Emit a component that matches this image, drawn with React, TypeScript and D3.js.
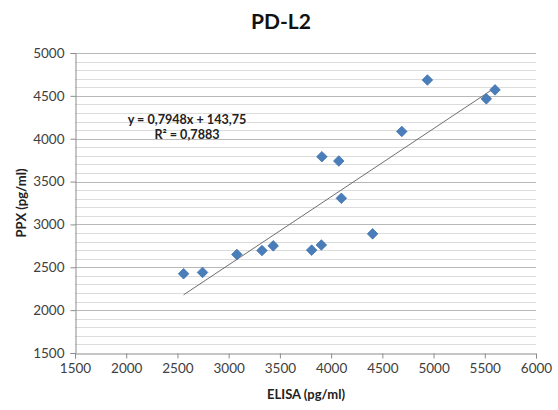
import React, { useEffect, useRef } from "react";
import * as d3 from "d3";

const elisa = [2560, 2745, 3080, 3325, 3435, 3810, 3905, 4405, 3910, 4075, 4100, 4690, 4940, 5515, 5600];
const ppx = [2425, 2440, 2650, 2695, 2750, 2700, 2760, 2890, 3790, 3740, 3305, 4085, 4685, 4465, 4570];
const xTicks = [1500, 2000, 2500, 3000, 3500, 4000, 4500, 5000, 5500, 6000];
const yTicks = [1500, 2000, 2500, 3000, 3500, 4000, 4500, 5000];
const slope = 0.7948;
const intercept = 143.75;
const equationLines = ["y = 0,7948x + 143,75", "R² = 0,7883"];

function App() {
  const svgRef = useRef<SVGSVGElement | null>(null);

  useEffect(() => {
    drawChart();
  }, []);

  const drawChart = () => {
    const svg = d3.select(svgRef.current);
    svg.selectAll("*").remove();

    const font = "Lato, 'Open Sans', sans-serif";
    const left = 75, right = 536, top = 53, bottom = 353;

    const xScale = d3.scaleLinear().domain([1500, 6000]).range([left, right]);
    const yScale = d3.scaleLinear().domain([1500, 5000]).range([bottom, top]);

    svg.append("rect").attr("width", 558).attr("height", 410).attr("fill", "#fff");

    // minor gridlines every 100
    const minor = d3.range(1600, 5000, 100).filter((v) => v % 500 !== 0);
    svg.append("g")
      .selectAll("line")
      .data(minor)
      .enter()
      .append("line")
      .attr("x1", left)
      .attr("x2", right)
      .attr("y1", (d) => Math.round(yScale(d)) + 0.5)
      .attr("y2", (d) => Math.round(yScale(d)) + 0.5)
      .attr("stroke", "#dcdcdc")
      .attr("stroke-width", 1);

    // major gridlines
    svg.append("g")
      .selectAll("line")
      .data(yTicks.slice(1))
      .enter()
      .append("line")
      .attr("x1", left)
      .attr("x2", right)
      .attr("y1", (d) => Math.round(yScale(d)) + 0.5)
      .attr("y2", (d) => Math.round(yScale(d)) + 0.5)
      .attr("stroke", "#b8b8b8")
      .attr("stroke-width", 1);

    const xAxis = d3.axisBottom(xScale).tickValues(xTicks).tickSize(5).tickPadding(5).tickFormat(d3.format("d"));
    const yAxis = d3.axisLeft(yScale).tickValues(yTicks).tickSize(5).tickPadding(6).tickFormat(d3.format("d"));

    const gx = svg.append("g").attr("transform", `translate(0,${bottom + 0.5})`).call(xAxis);
    const gy = svg.append("g").attr("transform", `translate(${left + 0.5},0)`).call(yAxis);

    [gx, gy].forEach((g) => {
      g.select(".domain").attr("stroke", "#8c8c8c");
      g.selectAll(".tick line").attr("stroke", "#8c8c8c");
      g.selectAll(".tick text")
        .attr("fill", "#404040")
        .style("font-family", font)
        .style("font-size", "13.5px");
    });

    // trendline
    const xMin = d3.min(elisa) as number;
    const xMax = d3.max(elisa) as number;
    svg.append("line")
      .attr("x1", xScale(xMin))
      .attr("y1", yScale(slope * xMin + intercept))
      .attr("x2", xScale(xMax))
      .attr("y2", yScale(slope * xMax + intercept))
      .attr("stroke", "#6e6e6e")
      .attr("stroke-width", 1);

    const data = elisa.map((x, i) => ({ x, y: ppx[i] }));
    const diamond = d3.symbol().type(d3.symbolSquare).size(56);
    svg.append("g")
      .selectAll("path")
      .data(data)
      .enter()
      .append("path")
      .attr("d", diamond)
      .attr("transform", (d) => `translate(${xScale(d.x)},${yScale(d.y)}) rotate(45)`)
      .attr("fill", "#4a7ebb")
      .attr("stroke", "#3d6ea8")
      .attr("stroke-width", 0.7);

    svg.append("g")
      .selectAll("text")
      .data(equationLines)
      .enter()
      .append("text")
      .attr("x", 187)
      .attr("y", (d, i) => 124 + i * 15)
      .attr("text-anchor", "middle")
      .style("font-family", font)
      .style("font-size", "12.6px")
      .style("font-weight", "bold")
      .attr("fill", "#222")
      .text((d) => d);

    svg.append("text")
      .attr("x", 281)
      .attr("y", 29)
      .attr("text-anchor", "middle")
      .style("font-family", font)
      .style("font-size", "21px")
      .style("font-weight", "bold")
      .attr("fill", "#111")
      .text("PD-L2");

    svg.append("text")
      .attr("x", 306)
      .attr("y", 399)
      .attr("text-anchor", "middle")
      .style("font-family", font)
      .style("font-size", "13px")
      .style("font-weight", "bold")
      .attr("fill", "#222")
      .text("ELISA (pg/ml)");

    svg.append("text")
      .attr("transform", "translate(26,203) rotate(-90)")
      .attr("text-anchor", "middle")
      .style("font-family", font)
      .style("font-size", "13px")
      .style("font-weight", "bold")
      .attr("fill", "#222")
      .text("PPX (pg/ml)");
  };

  return (
    <div>
      <svg ref={svgRef} width={558} height={410} style={{ position: "absolute", left: 0, top: 0 }} />
    </div>
  );
}

export default App;
